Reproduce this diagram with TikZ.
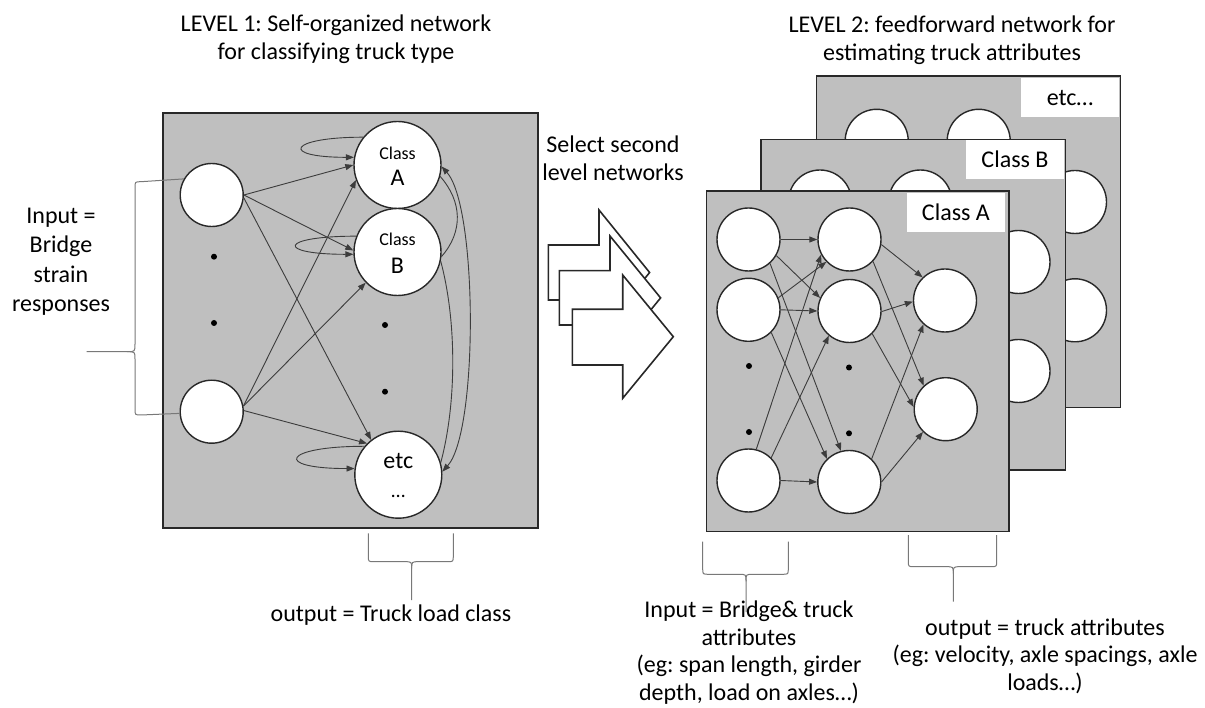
\documentclass[tikz,border=0pt]{standalone}
\usepackage{fontspec}
\setmainfont{Carlito}
\usetikzlibrary{arrows.meta}
\definecolor{panelgray}{RGB}{191,191,191}
\definecolor{edgegray}{RGB}{60,60,60}
\definecolor{bracegray}{RGB}{120,120,120}
\definecolor{outlinegray}{RGB}{40,40,40}
\frenchspacing
\newcommand{\upbrace}[6]{%
  \draw[bracestyle] (#1,#3) -- (#1,#4-6) .. controls (#1,#4) .. (#1+6,#4) -- (#5-7,#4) .. controls (#5,#4) .. (#5,#4+7) -- (#5,#6);
  \draw[bracestyle] (#2,#3) -- (#2,#4-6) .. controls (#2,#4) .. (#2-6,#4) -- (#5+7,#4) .. controls (#5,#4) .. (#5,#4+7);}
\begin{document}
\begin{tikzpicture}[x=1pt,y=-1pt,
  panel/.style={draw=outlinegray,line width=1.5pt,fill=panelgray},
  neuron/.style={circle,draw=outlinegray,line width=1.4pt,fill=white,minimum size=63pt,inner sep=0pt},
  bigneuron/.style={circle,draw=outlinegray,line width=1.4pt,fill=white,minimum size=87pt,inner sep=0pt},
  conn/.style={draw=edgegray,line width=0.9pt},
  arr/.style={conn,-{Triangle[length=8pt,width=6pt]}},
  blackdot/.style={circle,fill=black,minimum size=6pt,inner sep=0pt},
  bracestyle/.style={draw=bracegray,line width=1pt},
  blockarrow/.style={draw=outlinegray,line width=1.6pt,fill=white,line join=miter},
  txt/.style={font=\fontsize{24}{28}\selectfont,align=center,inner sep=0pt},
  labelbox/.style={fill=white,minimum width=98pt,minimum height=39pt,inner sep=0pt,font=\fontsize{24}{28}\selectfont}
]
\useasboundingbox (0,0) rectangle (1205,708);

% ---------- titles (anchor = baseline of last line) ----------
\node[txt,anchor=base] (title1) at (336,60) {LEVEL 1: Self-organized network\\for classifying truck type};
\node[txt,anchor=base] (title2) at (952,61) {LEVEL 2: feedforward network for\\estimating truck attributes};
\node[txt,anchor=base] (select) at (613,180.7) {Select second\\level networks};

% ---------- LEVEL 1 panel ----------
\draw[panel] (163,113) rectangle (538,528);
\node[neuron] (in1) at (211.7,195) {};
\node[neuron] (in2) at (211.7,411.7) {};
\node[bigneuron] (cA) at (397.5,165) {};
\node[bigneuron] (cB) at (397.5,252) {};
\node[bigneuron] (cE) at (398.3,474.7) {};
\node[anchor=base,inner sep=0pt,font=\fontsize{18}{20}\selectfont] (tA1) at ([yshift=5.5pt]cA.center) {Class};
\node[anchor=base,inner sep=0pt,font=\fontsize{24}{26}\selectfont] (tA2) at ([yshift=-21pt]cA.center) {A};
\node[anchor=base,inner sep=0pt,font=\fontsize{18}{20}\selectfont] (tB1) at ([yshift=6pt]cB.center) {Class};
\node[anchor=base,inner sep=0pt,font=\fontsize{24}{26}\selectfont] (tB2) at ([yshift=-21.3pt]cB.center) {B};
\node[anchor=base,inner sep=0pt,font=\fontsize{24}{26}\selectfont] (tE1) at ([yshift=6.4pt]cE.center) {etc};
\node[anchor=base,inner sep=0pt,font=\fontsize{20}{22}\selectfont] (tE2) at ([yshift=-22.6pt]cE.center) {…};
\node[blackdot] (ld1) at (214,256.7) {};
\node[blackdot] (ld2) at (214,323) {};
\node[blackdot] (ld3) at (385,325) {};
\node[blackdot] (ld4) at (385,391.7) {};

\draw[arr] (in1.east) -- (cA.180);
\draw[arr] (in1.east) -- (cB.178);
\draw[arr] (in1.-5) -- (cE.128);
\draw[arr] (in2.10) -- (cA.200);
\draw[arr] (in2.10) -- (cB.224);
\draw[arr] (in2.2) -- (cE.135);
% self loops
\draw[arr] (cA.141) .. controls +(-75,0) and +(-75,0) .. (cA.170);
\draw[arr] (cB.159) .. controls +(-78,0) and +(-78,0) .. (cB.183);
\draw[arr] (cE.140) .. controls +(-82,0) and +(-82,0) .. (cE.172);
% recurrent arcs
\draw[conn] (cA.-15) .. controls +(22,25) and +(22,-25) .. (cB.-6);
\draw[conn] (cB.-12) .. controls +(16,60) and +(16,-60) .. (cE.16);
\draw[conn,{Triangle[length=8pt,width=6pt]}-{Triangle[length=8pt,width=6pt]}] (cA.-2) .. controls +(36,40) and +(36,-40) .. (cE.4);

% input brace (left)
\draw[bracestyle] (in1.150) -- (141,181.7) .. controls (135,181.7) .. (135,188) -- (135,344) .. controls (135,351.7) .. (127,351.7) -- (86.7,351.7);
\draw[bracestyle] (in2.183) -- (141,415) .. controls (135,415) .. (135,409) -- (135,359) .. controls (135,351.7) .. (127,351.7);
\node[txt,anchor=base,font=\fontsize{24}{29.5}\selectfont] (inlab) at (61,311.7) {Input =\\Bridge\\strain\\responses};

% output brace (level 1)
\upbrace{368.3}{453.3}{533.3}{561.7}{411.7}{600}
\node[txt,anchor=base] (outlab1) at (391,621.7) {output = Truck load class};

% ---------- block arrows ----------
\draw[blockarrow] (548.3,245) -- (599,245) -- (599,210) -- (649.6,272.5) -- (599,335) -- (599,300) -- (548.3,300) -- cycle;
\draw[blockarrow] (559.3,270.7) -- (610,270.7) -- (610,236) -- (660.6,297.9) -- (610,359.8) -- (610,325) -- (559.3,325) -- cycle;
\draw[blockarrow] (572.3,309.3) -- (622.7,309.3) -- (622.7,275) -- (673.3,336.7) -- (622.7,398.3) -- (622.7,365) -- (572.3,365) -- cycle;

% ---------- LEVEL 2 panels ----------
% etc panel
\draw[panel] (816.7,76) rectangle (1120.7,407.3);
\node[neuron] (e1) at (876.7,140.8) {};
\node[neuron] (e2) at (978.7,140.8) {};
\node[neuron] (e3) at (1075,202) {};
\node[neuron] (e4) at (1075,310.3) {};
\node[labelbox] (elab) at (1070,97.8) {etc…};
% Class B panel
\draw[panel] (761,139.3) rectangle (1065.7,470);
\node[neuron] (b1) at (820,201.5) {};
\node[neuron] (b2) at (920.3,201.5) {};
\node[neuron] (b3) at (1018.5,262) {};
\node[neuron] (b4) at (1018.5,371) {};
\node[labelbox] (blab) at (1015,159.7) {Class B};
% Class A panel
\draw[panel] (706.7,191) rectangle (1009,531.7);
\node[labelbox] (alab) at (955.9,212.2) {Class A};
\node[neuron] (a1) at (748.5,239.5) {};
\node[neuron] (a2) at (748.5,309.8) {};
\node[neuron] (a3) at (748.5,480.5) {};
\node[neuron] (h1) at (849.5,239.5) {};
\node[neuron] (h2) at (849.5,311) {};
\node[neuron] (h3) at (849.3,482) {};
\node[neuron] (o1) at (945,300.5) {};
\node[neuron] (o2) at (945.7,409.2) {};
\node[blackdot] (rd1) at (749,366) {};
\node[blackdot] (rd2) at (749,432) {};
\node[blackdot] (rd3) at (849,367.5) {};
\node[blackdot] (rd4) at (849,433.3) {};

\draw[arr] (a1.east) -- (h1.west);
\draw[arr] (a1.-30) -- (h2.156);
\draw[arr] (a1.-48) -- (h3.105);
\draw[arr] (a2.22) -- (h1.224);
\draw[arr] (a2.east) -- (h2.west);
\draw[arr] (a2.-45) -- (h3.134);
\draw[arr] (a3.76) -- (h1.208);
\draw[arr] (a3.45) -- (h2.230);
\draw[arr] (a3.east) -- (h3.west);
\draw[arr] (h1.-9) -- (o1.134);
\draw[arr] (h1.-43) -- (o2.133);
\draw[arr] (h2.-1) -- (o1.182);
\draw[arr] (h2.-45) -- (o2.176);
\draw[arr] (h3.46) -- (o1.228);
\draw[arr] (h3.0) -- (o2.225);

% braces under level 2
\upbrace{702.7}{788.3}{541.7}{574.3}{746}{612}
\upbrace{908.3}{996.7}{535}{566.7}{953.3}{601.7}
\node[txt,anchor=base,font=\fontsize{24}{27.5}\selectfont] (inlab2) at (749,700) {Input = Bridge\& truck\\attributes\\(eg: span length, girder\\depth, load on axles…)};
\node[txt,anchor=base,font=\fontsize{24}{27.5}\selectfont] (outlab2) at (1045,690) {output = truck attributes\\(eg: velocity, axle spacings, axle\\loads…)};
\end{tikzpicture}
\end{document}
